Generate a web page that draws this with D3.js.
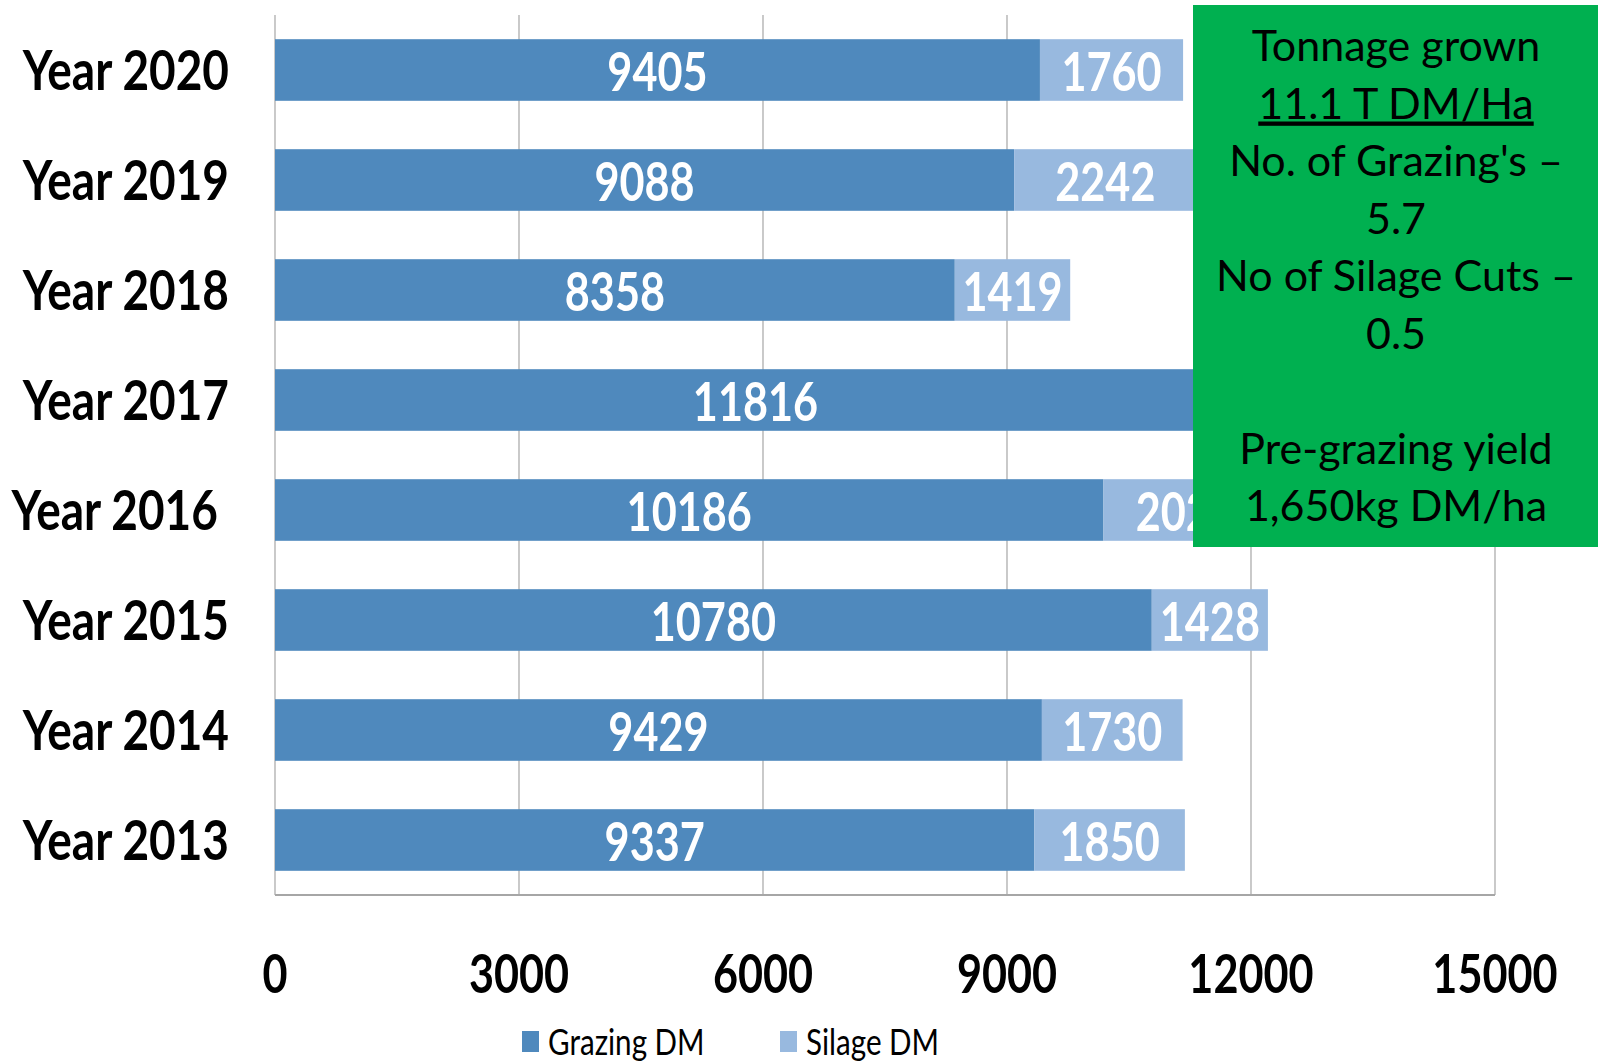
<!DOCTYPE html>
<html>
<head>
<meta charset="utf-8">
<script src="https://cdn.jsdelivr.net/npm/d3@7"></script>
<style>
  body { margin: 0; background: #fff; }
  svg { display: block; }
</style>
</head>
<body>
<svg id="chart" width="1598" height="1064"></svg>
<script>
// values
const years = ['Year 2020', 'Year 2019', 'Year 2018', 'Year 2017', 'Year 2016 ', 'Year 2015', 'Year 2014', 'Year 2013']
const grazing = [9405, 9088, 8358, 11816, 10186, 10780, 9429, 9337]
const silage = [1760, 2242, 1419, 0, 2024, 1428, 1730, 1850]
const xTicks = [0, 3000, 6000, 9000, 12000, 15000]
const seriesNames = ['Grazing DM', 'Silage DM']
const noteLines = ['Tonnage grown', '11.1 T DM/Ha', "No. of Grazing's \u2013", '5.7', 'No of Silage Cuts \u2013', '0.5', '', 'Pre-grazing yield', '1,650kg DM/ha']

const colors = ['#4f89bd', '#98b9df']
const FONT = 'Lato, "Open Sans", sans-serif'
const SQUISH = 0.8

const svg = d3.select('#chart')
const plot = { left: 275, right: 1495, top: 15, bottom: 895 }

const x = d3.scaleLinear().domain([0, 15000]).range([plot.left, plot.right])
const y = d3
  .scaleBand()
  .domain(years)
  .range([plot.top, plot.bottom])
  .paddingInner(0.44)
  .paddingOuter(0.22)

// narrow the glyphs like the condensed look of the original
const squish = (k) => (sel) =>
  sel.each(function () {
    const w = this.getComputedTextLength()
    d3.select(this).attr('textLength', w * k).attr('lengthAdjust', 'spacingAndGlyphs')
  })

// gridlines
svg
  .append('g')
  .selectAll('line')
  .data(xTicks)
  .enter()
  .append('line')
  .attr('x1', (d) => x(d))
  .attr('x2', (d) => x(d))
  .attr('y1', plot.top)
  .attr('y2', plot.bottom)
  .attr('stroke', '#a6a6a6')
  .attr('stroke-width', 1.2)

// stacked bars
const rows = years.map((year, i) => ({ year, parts: [grazing[i], silage[i]] }))

const rowGroups = svg
  .append('g')
  .selectAll('g')
  .data(rows)
  .enter()
  .append('g')

rowGroups.each(function (row) {
  let start = 0
  const segs = row.parts.map((v, j) => {
    const s = { year: row.year, from: start, to: start + v, value: v, j }
    start += v
    return s
  })
  const g = d3.select(this)
  g.selectAll('rect')
    .data(segs.filter((s) => s.value > 0))
    .enter()
    .append('rect')
    .attr('x', (s) => x(s.from))
    .attr('width', (s) => x(s.to) - x(s.from))
    .attr('y', y(row.year))
    .attr('height', y.bandwidth())
    .attr('fill', (s) => colors[s.j])
  g.selectAll('text')
    .data(segs.filter((s) => s.value > 0))
    .enter()
    .append('text')
    .attr('x', (s) => x((s.from + s.to) / 2))
    .attr('y', y(row.year) + y.bandwidth() / 2 + 21)
    .attr('text-anchor', 'middle')
    .attr('font-family', FONT)
    .attr('font-weight', 700)
    .attr('font-size', 54)
    .attr('fill', '#fff')
    .text((s) => s.value)
    .call(squish(SQUISH))
})

// axis lines
svg
  .append('line')
  .attr('x1', plot.left)
  .attr('x2', plot.right)
  .attr('y1', plot.bottom)
  .attr('y2', plot.bottom)
  .attr('stroke', '#a6a6a6')
  .attr('stroke-width', 2)

// year labels
svg
  .append('g')
  .selectAll('text')
  .data(years)
  .enter()
  .append('text')
  .attr('x', 229)
  .attr('y', (d) => y(d) + y.bandwidth() / 2 + 20)
  .attr('text-anchor', 'end')
  .style('white-space', 'pre')
  .attr('font-family', FONT)
  .attr('font-weight', 700)
  .attr('font-size', 56)
  .attr('fill', '#000')
  .text((d) => d)
  .call(squish(0.82))

// x tick labels
svg
  .append('g')
  .selectAll('text')
  .data(xTicks)
  .enter()
  .append('text')
  .attr('x', (d) => x(d))
  .attr('y', 993)
  .attr('text-anchor', 'middle')
  .attr('font-family', FONT)
  .attr('font-weight', 700)
  .attr('font-size', 54)
  .attr('fill', '#000')
  .text((d) => d)
  .call(squish(SQUISH))

// legend
const legendX = [522, 780]
const legend = svg
  .append('g')
  .selectAll('g')
  .data(seriesNames)
  .enter()
  .append('g')
  .attr('transform', (d, i) => `translate(${legendX[i]},1031)`)
legend
  .append('rect')
  .attr('width', 17)
  .attr('height', 21)
  .attr('fill', (d, i) => colors[i])
legend
  .append('text')
  .attr('x', 26)
  .attr('y', 24)
  .attr('font-family', FONT)
  .attr('font-size', 37)
  .attr('fill', '#000')
  .text((d) => d)
  .call(squish(SQUISH))

// green note box
const box = { x: 1193, y: 5, w: 405, h: 542 }
svg
  .append('rect')
  .attr('x', box.x)
  .attr('y', box.y)
  .attr('width', box.w)
  .attr('height', box.h)
  .attr('fill', '#00b050')

const lineY = d3.scaleLinear().domain([0, 8]).range([61, 521])
svg
  .append('g')
  .selectAll('text')
  .data(noteLines)
  .enter()
  .append('text')
  .attr('x', 1396)
  .attr('y', (d, i) => lineY(i))
  .attr('text-anchor', 'middle')
  .attr('font-family', FONT)
  .attr('font-size', 43)
  .attr('fill', '#000')
  .style('text-decoration', (d, i) => (i === 1 ? 'underline' : null))
  .text((d) => d)
</script>
</body>
</html>
